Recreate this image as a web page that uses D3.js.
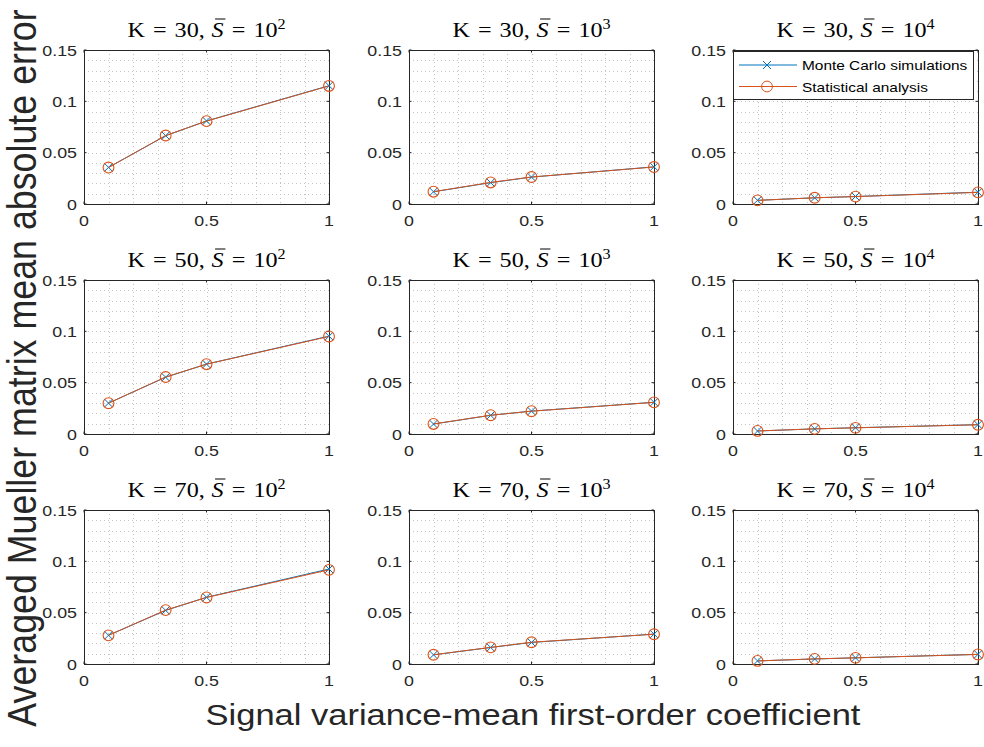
<!DOCTYPE html>
<html lang="en">

<head>
    <meta charset="UTF-8">
    <title>Mueller matrix error grid</title>
    <script src="https://d3js.org/d3.v7.min.js"></script>
    <style>
        body { margin: 0; background: #fff; }
        svg { display: block; }
        .tick_label { font-family: "Liberation Sans", Arial, sans-serif; font-size: 15.5px; fill: #262626; }
        .title { font-family: "Liberation Serif", "DejaVu Serif", serif; font-size: 21px; fill: #000; }
        .axis_label { font-family: "Liberation Sans", Arial, sans-serif; fill: #262626; }
        .legend_text { font-family: "Liberation Sans", Arial, sans-serif; font-size: 13.4px; fill: #000; }
    </style>
</head>

<body>
    <svg width="984" height="747"></svg>

    <script>
        // x positions of the four measurements
        const xValues = [0.1, 1 / 3, 0.5, 1];
        const kValues = [30, 50, 70];
        const sExponents = [2, 3, 4];
        const xTicks = [0, 0.5, 1];
        const xTickLabels = ["0", "0.5", "1"];
        const yTicks = [0, 0.05, 0.1, 0.15];
        const yTickLabels = ["0", "0.05", "0.1", "0.15"];
        const seriesNames = ["Monte Carlo simulations", "Statistical analysis"];

        // Monte Carlo simulations, one row per S exponent (10^2, 10^3, 10^4)
        const mc_K30 = [[0.0357, 0.0665, 0.0809, 0.1152], [0.0119, 0.0208, 0.0262, 0.0362], [0.0036, 0.0060, 0.0073, 0.0115]];
        const mc_K50 = [[0.0301, 0.0553, 0.0681, 0.0953], [0.0097, 0.0182, 0.0223, 0.0309], [0.0029, 0.0050, 0.0061, 0.0091]];
        const mc_K70 = [[0.0280, 0.0522, 0.0650, 0.0925], [0.0089, 0.0161, 0.0210, 0.0291], [0.0030, 0.0049, 0.0060, 0.0094]];

        // Statistical analysis
        const st_K30 = [[0.0355, 0.0667, 0.0807, 0.1150], [0.0120, 0.0210, 0.0263, 0.0360], [0.0035, 0.0061, 0.0072, 0.0113]];
        const st_K50 = [[0.0300, 0.0555, 0.0680, 0.0950], [0.0098, 0.0183, 0.0222, 0.0308], [0.0030, 0.0050, 0.0060, 0.0090]];
        const st_K70 = [[0.0279, 0.0525, 0.0648, 0.0917], [0.0090, 0.0162, 0.0212, 0.0290], [0.0030, 0.0050, 0.0060, 0.0093]];

        const mcData = [mc_K30, mc_K50, mc_K70];
        const stData = [st_K30, st_K50, st_K70];

        const blue = "#0072BD";
        const orange = "#D95319";
        const sx = 1.15; // the picture is a bit wider than tall

        const svg = d3.select("svg");

        const colLeft = [84, 409, 733];
        const rowTop = [50, 280, 510];
        const pw = 245, ph = 154;

        const x = d3.scaleLinear().domain([0, 1]).range([0, pw]);
        const y = d3.scaleLinear().domain([0, 0.15]).range([ph, 0]);

        function drawX(g, px, py, size) {
            g.append("path")
                .attr("d", `M${px - size},${py - size}L${px + size},${py + size}M${px - size},${py + size}L${px + size},${py - size}`)
                .attr("stroke", blue).attr("stroke-width", 1).attr("fill", "none");
        }

        for (let r = 0; r < 3; r++) {
            for (let c = 0; c < 3; c++) {
                const g = svg.append("g").attr("transform", `translate(${colLeft[c]},${rowTop[r]})`);

                // background
                g.append("rect").attr("width", pw).attr("height", ph).attr("fill", "#fff");

                // minor grid
                g.selectAll(".vgrid").data(d3.range(1, 10).map(d => d / 10)).enter()
                    .append("line")
                    .attr("x1", d => Math.round(x(d)) + 0.5).attr("x2", d => Math.round(x(d)) + 0.5)
                    .attr("y1", 0).attr("y2", ph)
                    .attr("stroke", "#c4c4c4").attr("stroke-width", 1)
                    .attr("stroke-dasharray", "1,3");
                g.selectAll(".hgrid").data(d3.range(1, 15).map(d => d / 100)).enter()
                    .append("line")
                    .attr("x1", 0).attr("x2", pw)
                    .attr("y1", d => Math.round(y(d)) + 0.5).attr("y2", d => Math.round(y(d)) + 0.5)
                    .attr("stroke", "#c4c4c4").attr("stroke-width", 1)
                    .attr("stroke-dasharray", "1,3");

                // tick marks inside the box
                xTicks.forEach(t => {
                    g.append("line").attr("x1", x(t)).attr("x2", x(t)).attr("y1", ph).attr("y2", ph - 2.5).attr("stroke", "#262626");
                    g.append("line").attr("x1", x(t)).attr("x2", x(t)).attr("y1", 0).attr("y2", 2.5).attr("stroke", "#262626");
                });
                yTicks.forEach(t => {
                    g.append("line").attr("x1", 0).attr("x2", 2.5).attr("y1", y(t)).attr("y2", y(t)).attr("stroke", "#262626");
                    g.append("line").attr("x1", pw).attr("x2", pw - 2.5).attr("y1", y(t)).attr("y2", y(t)).attr("stroke", "#262626");
                });

                // box
                g.append("rect").attr("x", 0.5).attr("y", 0.5).attr("width", pw).attr("height", ph)
                    .attr("fill", "none").attr("stroke", "#262626").attr("stroke-width", 1);

                // tick labels
                xTicks.forEach((t, i) => {
                    g.append("text").attr("class", "tick_label")
                        .attr("transform", `translate(${x(t)},${ph + 22}) scale(${sx},1)`)
                        .attr("text-anchor", "middle")
                        .text(xTickLabels[i]);
                });
                yTicks.forEach((t, i) => {
                    g.append("text").attr("class", "tick_label")
                        .attr("transform", `translate(-7,${y(t) + 5.5}) scale(${sx},1)`)
                        .attr("text-anchor", "end")
                        .text(yTickLabels[i]);
                });

                // series
                const line = d3.line().x((d, i) => x(xValues[i])).y(d => y(d));
                const mc = mcData[r][c];
                const st = stData[r][c];

                g.append("path").datum(mc).attr("d", line)
                    .attr("fill", "none").attr("stroke", blue).attr("stroke-width", 1);
                mc.forEach((v, i) => drawX(g, x(xValues[i]), y(v), 4));

                g.append("path").datum(st).attr("d", line)
                    .attr("fill", "none").attr("stroke", orange).attr("stroke-width", 1);
                g.selectAll(".st_marker").data(st).enter()
                    .append("circle")
                    .attr("cx", (d, i) => x(xValues[i])).attr("cy", d => y(d))
                    .attr("r", 5.4)
                    .attr("fill", "none").attr("stroke", orange).attr("stroke-width", 1.1);

                // title: K = .., S-bar = 10^n  (latex-like spacing)
                const tg = g.append("g").attr("transform", `translate(${pw / 2},-13) scale(${sx},1)`);
                const title = tg.append("text").attr("class", "title").attr("text-anchor", "middle");
                title.append("tspan").text("K");
                title.append("tspan").attr("dx", 7).text("=");
                title.append("tspan").attr("dx", 7).text(`${kValues[r]},`);
                title.append("tspan").attr("dx", 6).attr("font-style", "italic").text("S");
                title.append("tspan").attr("dx", 7).text("=");
                title.append("tspan").attr("dx", 7).text("10");
                title.append("tspan").attr("font-size", "14px").attr("dy", -8).text(sExponents[c]);
                const node = title.node();
                const sIdx = 2 + `${kValues[r]},`.length;
                const p0 = node.getStartPositionOfChar(sIdx);
                const p1 = node.getEndPositionOfChar(sIdx);
                tg.append("line")
                    .attr("x1", p0.x + 3).attr("x2", p1.x + 1.5)
                    .attr("y1", -18).attr("y2", -18)
                    .attr("stroke", "#000").attr("stroke-width", 1);
            }
        }

        // legend in the top-right panel
        const lg = svg.append("g").attr("transform", "translate(733,51)");
        lg.append("rect").attr("x", 0.5).attr("y", 0.5).attr("width", 240).attr("height", 48)
            .attr("fill", "#fff").attr("stroke", "#262626").attr("stroke-width", 1);
        [blue, orange].forEach((col, i) => {
            const yy = 14 + i * 21.5;
            lg.append("line").attr("x1", 6).attr("x2", 64).attr("y1", yy).attr("y2", yy)
                .attr("stroke", col).attr("stroke-width", 1);
            if (i === 0) drawX(lg, 34, yy, 4);
            else lg.append("circle").attr("cx", 34).attr("cy", yy).attr("r", 5.4)
                .attr("fill", "none").attr("stroke", col);
            lg.append("text").attr("class", "legend_text")
                .attr("transform", `translate(69,${yy + 5}) scale(${sx},1)`)
                .text(seriesNames[i]);
        });

        // shared axis labels
        svg.append("text").attr("class", "axis_label")
            .attr("transform", `translate(533,725) scale(${sx},1)`)
            .attr("text-anchor", "middle").attr("font-size", "30px")
            .text("Signal variance-mean first-order coefficient");

        svg.append("text").attr("class", "axis_label")
            .attr("transform", `translate(36,368) scale(${sx},1) rotate(-90)`)
            .attr("text-anchor", "middle").attr("font-size", "35.8px")
            .text("Averaged Mueller matrix mean absolute error");
    </script>
</body>

</html>
